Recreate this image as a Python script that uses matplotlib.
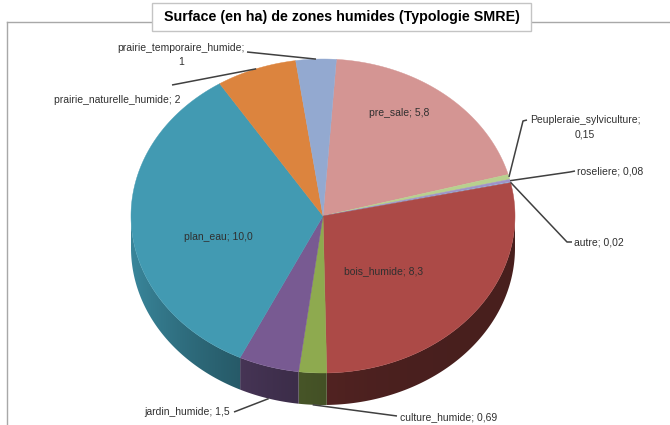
import numpy as np
import matplotlib
matplotlib.use("Agg")
import matplotlib.pyplot as plt
from matplotlib.patches import Polygon, Rectangle
from matplotlib.colors import to_rgb

plt.rcParams['font.family'] = ['Liberation Sans Narrow', 'Liberation Sans', 'DejaVu Sans']

# Data
categories = ['pre_sale', 'Peupleraie_sylviculture', 'roseliere', 'autre',
              'bois_humide', 'culture_humide', 'jardin_humide', 'plan_eau',
              'prairie_naturelle_humide', 'prairie_temporaire_humide']
values = [5.8, 0.15, 0.08, 0.02, 8.3, 0.69, 1.5, 10.0, 2, 1]
value_labels = ['5,8', '0,15', '0,08', '0,02', '8,3', '0,69', '1,5', '10,0', '2', '1']
colors = ['#D49593', '#B8D08E', '#9F93C8', '#8FB0D8', '#AC4A47',
          '#8EAA4F', '#785A92', '#429AB2', '#DC843E', '#93A9D0']

title = 'Surface (en ha) de zones humides (Typologie SMRE)'

# Geometry of the tilted pie (pixel space)
W, H = 670, 425
cx, cy = 323, 216
rx, ry = 192, 157
depth = 32
start = 86.0  # degrees, slices run clockwise

fig = plt.figure(figsize=(W / 100, H / 100), dpi=100)
ax = fig.add_axes([0, 0, 1, 1])
ax.set_xlim(0, W)
ax.set_ylim(H, 0)
ax.axis('off')


def pt(t, dz=0.0):
    r = np.radians(t)
    return cx + rx * np.cos(r), cy - ry * np.sin(r) + dz


def shade_x(x):
    c = np.clip((x - cx) / rx, -1, 1)
    return 0.42 + 0.45 * ((1 - c) / 2) ** 3


total = float(np.sum(values))
fracs = np.array(values) / total
bounds = start - 360 * np.concatenate([[0], np.cumsum(fracs)])

# Outer side walls (front half only), shaded by a horizontal gradient
for i, col in enumerate(colors):
    t1, t2 = bounds[i], bounds[i + 1]
    # keep only the part of the arc that faces the viewer (sin < 0)
    lo, hi = min(t1, t2), max(t1, t2)
    ts = np.linspace(hi, lo, max(4, int((hi - lo) * 3) + 2))
    ts = ts[np.sin(np.radians(ts)) <= 1e-9]
    if len(ts) < 2:
        continue
    top = [pt(t) for t in ts]
    bot = [pt(t, depth) for t in ts[::-1]]
    poly = Polygon(top + bot, closed=True, facecolor='none', edgecolor='none')
    ax.add_patch(poly)
    xs = np.array([p[0] for p in top + bot])
    ys = np.array([p[1] for p in top + bot])
    x0, x1 = xs.min() - 1, xs.max() + 1
    y0, y1 = ys.min() - 1, ys.max() + 1
    gx = np.linspace(x0, x1, 200)
    base = np.array(to_rgb(col))
    img = np.clip(base[None, None, :] * shade_x(gx)[None, :, None], 0, 1)
    img = np.repeat(img, 2, axis=0)
    im = ax.imshow(img, extent=(x0, x1, y1, y0), interpolation='bilinear',
                   zorder=1, aspect='auto')
    im.set_clip_path(poly)

# Top faces
for i, col in enumerate(colors):
    t1, t2 = bounds[i], bounds[i + 1]
    ts = np.linspace(t1, t2, max(3, int(abs(t1 - t2) * 2) + 2))
    verts = [(cx, cy)] + [pt(t) for t in ts]
    ax.add_patch(Polygon(verts, closed=True, facecolor=col, edgecolor=col,
                         linewidth=0.3, zorder=2))

ax.set_xlim(0, W)
ax.set_ylim(H, 0)

txt_kw = dict(fontsize=7.5, color='#303030', zorder=5)
line_kw = dict(color='#404040', linewidth=1.1, zorder=4, solid_capstyle='butt')


def mid(i):
    return (bounds[i] + bounds[i + 1]) / 2


# Labels placed inside slices
inside = {0: (399, 113), 4: (384, 271), 7: (218, 237)}
for i, (x, y) in inside.items():
    ax.text(x, y, f'{categories[i]}; {value_labels[i]}', ha='center', va='center', **txt_kw)

# Labels outside with leader lines: (text pos, ha, va, path after edge point, text)
outside = {
    9: ((181, 55), 'center', 'center', [(247, 52)],
        f'{categories[9]};\n{value_labels[9]}'),
    8: ((180, 100), 'right', 'center', [(172, 85)],
        f'{categories[8]}; {value_labels[8]}'),
    1: ((585, 127), 'center', 'center', [(523, 121), (527, 120)],
        f'{categories[1]};\n{value_labels[1]}'),
    2: ((577, 171), 'left', 'center', [(570, 172), (575, 171)],
        f'{categories[2]}; {value_labels[2]}'),
    3: ((574, 242), 'left', 'center', [(567, 242), (572, 242)],
        f'{categories[3]}; {value_labels[3]}'),
    6: ((230, 412), 'right', 'center', [(234, 412)],
        f'{categories[6]}; {value_labels[6]}'),
    5: ((400, 417), 'left', 'center', [(397, 416)],
        f'{categories[5]}; {value_labels[5]}'),
}
for i, ((x, y), ha, va, path, s) in outside.items():
    t = mid(i)
    dz = depth if np.sin(np.radians(t)) < -0.9 else 0
    p0 = pt(t, dz)
    xs = [p0[0]] + [p[0] for p in path]
    ys = [p0[1]] + [p[1] for p in path]
    ax.plot(xs, ys, **line_kw)
    ax.text(x, y, s, ha=ha, va=va, multialignment='center', linespacing=1.5, **txt_kw)

# Chart frame and title box
frame_c = '#A8A8A8'
ax.plot([7, 7], [22, H + 5], color=frame_c, linewidth=1.0, zorder=0)
ax.plot([7, 152], [22, 22], color=frame_c, linewidth=1.0, zorder=0)
ax.plot([531, W + 5], [22, 22], color=frame_c, linewidth=1.0, zorder=0)
ax.add_patch(Rectangle((152, 3), 379, 28, facecolor='white', edgecolor='#C4C4C4',
                       linewidth=1.0, zorder=3))
ax.text(341.5, 17, title, ha='center', va='center', fontsize=10.3,
        fontweight='bold', color='black', zorder=6)

fig.savefig('out.png', dpi=100)
